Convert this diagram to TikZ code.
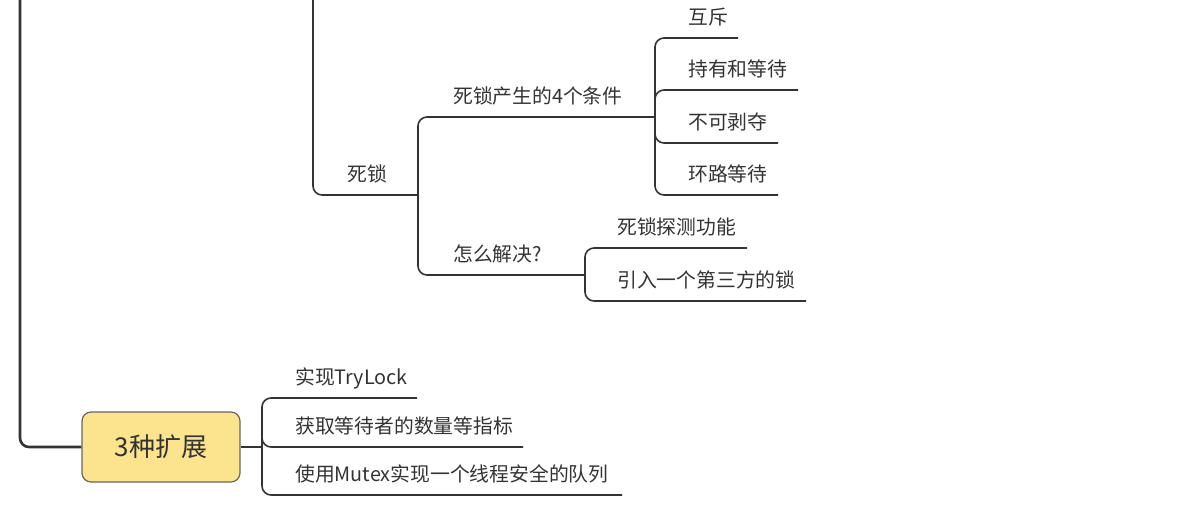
\documentclass[tikz,border=0pt]{standalone}
\usepackage{fontspec}
\setmainfont{Noto Sans CJK SC}
\usetikzlibrary{positioning}
\definecolor{boxfill}{HTML}{FCE38E}
\definecolor{ink}{HTML}{333333}

\begin{document}
\begin{tikzpicture}
	[   x=1pt,y=-1pt,
	    tnode/.style={anchor=base west,inner sep=0pt,text=ink,font=\fontsize{19.8}{20}\selectfont},
	    bnode/.style={draw=black!60,fill=#1,line width=1.2pt,rounded corners=9pt,minimum width=158pt,minimum height=70pt,text=ink,font=\fontsize{26}{28}\selectfont},
	]
	\tikzset{link/.style={draw=ink,line width=1.6pt,rounded corners=9pt}}
	\useasboundingbox (0,0) rectangle (1178,509);
	
	\coordinate (top-l) at (20,-10);
	\coordinate (top-m) at (313,-10);
	
	\node[bnode=boxfill] (ext) at (161,447) {3种扩展};
	\coordinate (ext-e) at (262,447);
	\draw[link,line width=2.6pt] (top-l) |- (ext.west);
	\draw[link] (ext.east) -- (ext-e);
	
	\foreach \y/\e/\t [count=\i] in {398/417/实现TryLock,447/523/获取等待者的数量等指标,495/622/使用Mutex实现一个线程安全的队列}
	{
		\node[tnode] (x-\i) at (295,{\y-14}) {\t};
		\coordinate (x-\i-e) at (\e,\y);
		\draw[link] (ext-e) |- (x-\i-e);
	}
	
	\node[tnode] (dl) at (347,181) {死锁};
	\coordinate (dl-e) at (418,195);
	\draw[link] (top-m) |- (dl-e);
	
	\node[tnode] (cond) at (453,103) {死锁产生的4个条件};
	\coordinate (cond-e) at (655,117);
	\node[tnode] (fix) at (453,261) {怎么解决?};
	\coordinate (fix-e) at (585,275);
	\draw[link] (dl-e) |- (cond-e);
	\draw[link] (dl-e) |- (fix-e);
	
	\foreach \y/\e/\t [count=\i] in {38/738/互斥,90/798/持有和等待,143/778/不可剥夺,195/778/环路等待}
	{
		\node[tnode] (c-\i) at (688,{\y-14}) {\t};
		\coordinate (c-\i-e) at (\e,\y);
		\draw[link] (cond-e) |- (c-\i-e);
	}
	
	\foreach \y/\e/\t [count=\i] in {248/747/死锁探测功能,301/806/引入一个第三方的锁}
	{
		\node[tnode] (f-\i) at (617,{\y-14}) {\t};
		\coordinate (f-\i-e) at (\e,\y);
		\draw[link] (fix-e) |- (f-\i-e);
	}
\end{tikzpicture}
\end{document}
